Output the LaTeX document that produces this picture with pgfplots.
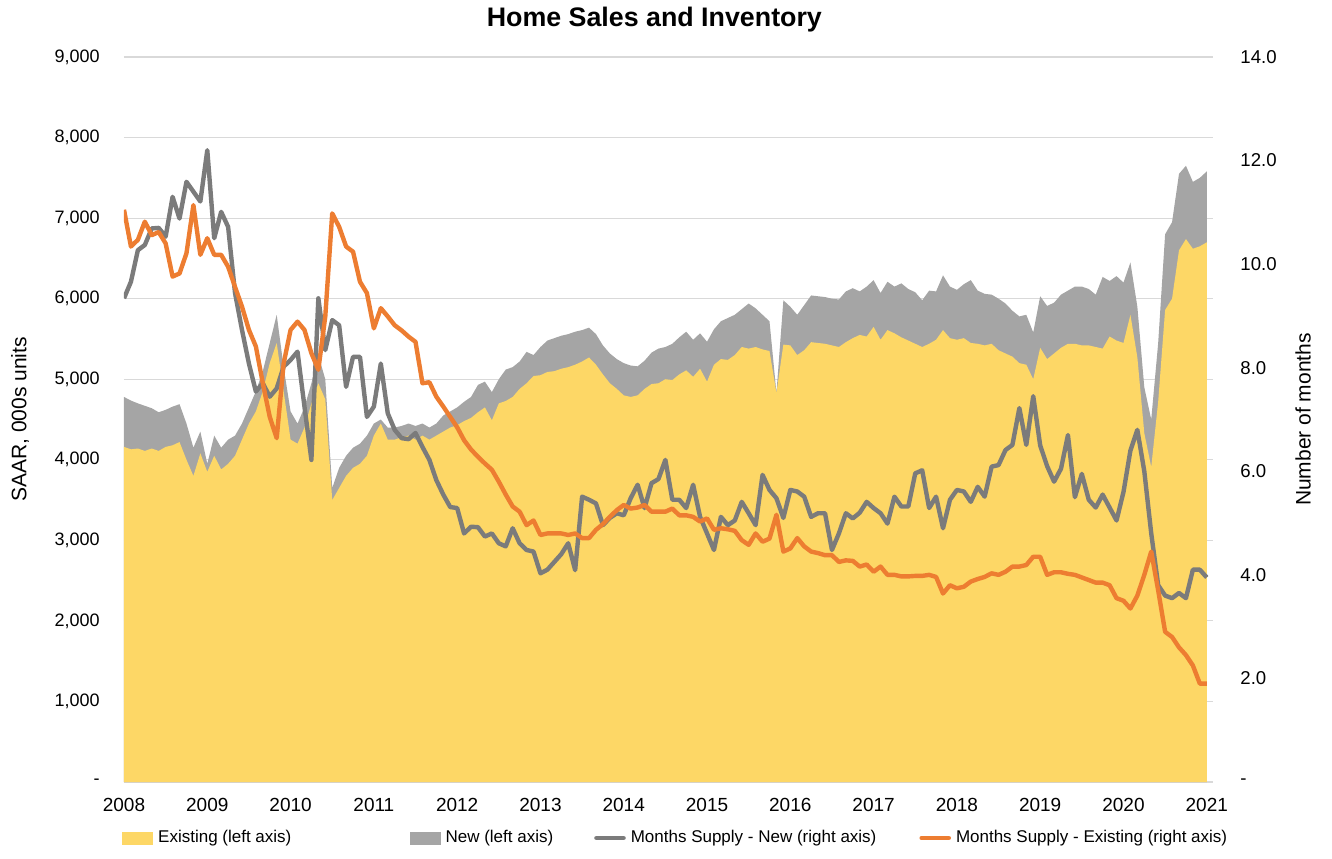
\documentclass[border=0pt]{standalone}
\usepackage{pgfplots}
\usepackage{pgfplotstable}
\pgfplotsset{compat=1.18}
\usepackage{fontspec}
\setmainfont{Liberation Sans}
\definecolor{exist}{HTML}{FDD766}
\definecolor{newc}{HTML}{A5A5A5}
\definecolor{msnew}{HTML}{7B7B7B}
\definecolor{msex}{HTML}{ED7D31}
\definecolor{gridc}{HTML}{D9D9D9}

\pgfplotstableread{
m T E N X
0 4780 4160 9.34 11.05
1 4735 4130 9.66 10.34
2 4700 4140 10.27 10.47
3 4670 4110 10.37 10.82
4 4640 4140 10.69 10.56
5 4590 4110 10.70 10.62
6 4620 4160 10.53 10.40
7 4660 4180 11.30 9.76
8 4690 4220 10.88 9.82
9 4450 4000 11.59 10.21
10 4150 3800 11.40 11.14
11 4350 4080 11.21 10.18
12 3950 3850 12.20 10.50
13 4300 4050 10.50 10.18
14 4150 3880 11.01 10.18
15 4250 3950 10.72 9.95
16 4300 4050 9.44 9.56
17 4450 4250 8.73 9.18
18 4650 4450 8.08 8.73
19 4850 4600 7.54 8.41
20 5100 4850 7.70 7.70
21 5450 5200 7.44 7.05
22 5800 5450 7.60 6.64
23 5150 4850 8.02 8.08
24 4600 4250 8.15 8.73
25 4450 4200 8.31 8.89
26 4650 4400 7.25 8.73
27 4950 4700 6.22 8.28
28 5300 4950 9.34 7.96
29 5000 4750 8.34 8.99
30 3650 3500 8.92 10.98
31 3900 3650 8.82 10.72
32 4050 3800 7.63 10.34
33 4150 3900 8.21 10.24
34 4200 3950 8.21 9.66
35 4300 4050 7.05 9.44
36 4450 4300 7.25 8.76
37 4500 4450 8.08 9.15
38 4400 4250 7.12 8.99
39 4400 4250 6.80 8.82
40 4420 4280 6.64 8.72
41 4450 4300 6.62 8.60
42 4420 4250 6.74 8.50
43 4450 4300 6.47 7.70
44 4400 4250 6.22 7.72
45 4450 4300 5.83 7.44
46 4550 4350 5.55 7.25
47 4600 4400 5.31 7.05
48 4650 4430 5.29 6.85
49 4720 4480 4.80 6.60
50 4780 4520 4.93 6.42
51 4930 4590 4.92 6.28
52 4970 4650 4.74 6.15
53 4840 4490 4.80 6.03
54 5000 4700 4.61 5.80
55 5120 4730 4.55 5.55
56 5150 4780 4.90 5.32
57 5220 4880 4.61 5.22
58 5340 4950 4.48 4.96
59 5300 5040 4.45 5.05
60 5400 5050 4.03 4.77
61 5480 5090 4.10 4.80
62 5510 5100 4.25 4.80
63 5540 5130 4.40 4.80
64 5560 5150 4.61 4.77
65 5590 5180 4.09 4.80
66 5610 5220 5.51 4.71
67 5640 5270 5.45 4.71
68 5560 5180 5.38 4.87
69 5420 5060 4.96 4.98
70 5320 4950 5.10 5.12
71 5250 4880 5.19 5.25
72 5200 4800 5.15 5.35
73 5170 4780 5.48 5.28
74 5160 4800 5.74 5.30
75 5230 4880 5.29 5.35
76 5330 4940 5.77 5.22
77 5380 4950 5.85 5.22
78 5400 5000 6.22 5.22
79 5440 4990 5.45 5.28
80 5520 5060 5.45 5.15
81 5590 5110 5.29 5.15
82 5490 5030 5.74 5.12
83 5570 5130 5.12 5.03
84 5465 4970 4.80 5.09
85 5620 5180 4.48 4.87
86 5720 5250 5.12 4.90
87 5760 5240 4.96 4.88
88 5800 5300 5.05 4.85
89 5870 5400 5.41 4.67
90 5940 5380 5.19 4.58
91 5880 5400 4.96 4.80
92 5800 5370 5.93 4.64
93 5720 5350 5.64 4.70
94 4830 4830 5.48 5.16
95 5980 5430 5.10 4.45
96 5900 5420 5.64 4.51
97 5800 5300 5.61 4.71
98 5920 5360 5.51 4.55
99 6040 5460 5.12 4.45
100 6030 5450 5.19 4.42
101 6020 5440 5.19 4.38
102 6000 5420 4.48 4.38
103 5990 5400 4.80 4.25
104 6090 5460 5.19 4.28
105 6130 5510 5.09 4.27
106 6090 5550 5.20 4.16
107 6150 5530 5.41 4.20
108 6230 5650 5.29 4.06
109 6070 5490 5.19 4.16
110 6210 5610 4.99 4.00
111 6150 5570 5.51 4.00
112 6190 5520 5.32 3.97
113 6120 5480 5.32 3.97
114 6080 5440 5.96 3.98
115 5980 5400 6.02 3.98
116 6100 5440 5.29 4.00
117 6090 5490 5.51 3.96
118 6290 5610 4.90 3.64
119 6150 5510 5.45 3.80
120 6110 5490 5.64 3.74
121 6180 5510 5.61 3.77
122 6230 5450 5.41 3.87
123 6100 5440 5.70 3.92
124 6060 5420 5.51 3.96
125 6050 5440 6.09 4.03
126 6000 5360 6.12 4.00
127 5940 5320 6.41 4.06
128 5850 5280 6.51 4.16
129 5780 5200 7.22 4.16
130 5800 5180 6.51 4.19
131 5580 5000 7.45 4.35
132 6030 5390 6.50 4.35
133 5910 5250 6.10 4.00
134 5950 5320 5.80 4.05
135 6050 5390 6.05 4.05
136 6100 5440 6.70 4.02
137 6150 5440 5.50 4.00
138 6150 5420 5.95 3.95
139 6120 5420 5.45 3.90
140 6050 5400 5.30 3.85
141 6270 5380 5.55 3.85
142 6220 5530 5.30 3.80
143 6280 5480 5.05 3.55
144 6200 5450 5.60 3.50
145 6450 5800 6.40 3.35
146 5900 5270 6.80 3.60
147 4900 4330 6.00 4.00
148 4500 3910 4.80 4.45
149 5450 4720 3.80 3.70
150 6800 5860 3.60 2.90
151 6950 6000 3.55 2.80
152 7550 6600 3.65 2.60
153 7650 6740 3.55 2.45
154 7450 6620 4.10 2.25
155 7500 6650 4.10 1.90
156 7580 6700 3.95 1.90
}\data

\begin{document}
\begin{tikzpicture}
\path[use as bounding box] (-62pt,-38pt) rectangle (604pt,391pt);
\begin{axis}[
  at={(0,0)}, anchor=south west,
  scale only axis, width=544.5pt, height=362.5pt,
  xmin=0, xmax=156.9, ymin=0, ymax=9000,
  axis x line*=bottom, axis y line*=left,
  x axis line style={draw=gridc, line width=0.7pt, -},
  y axis line style={draw=none},
  major tick length=0pt,
  xtick={0,12,...,156},
  xticklabels={2008,2009,2010,2011,2012,2013,2014,2015,2016,2017,2018,2019,2020,2021},
  ytick={0,1000,...,9000},
  yticklabels={-,{1,000},{2,000},{3,000},{4,000},{5,000},{6,000},{7,000},{8,000},{9,000}},
  ymajorgrids, grid style={draw=gridc, line width=0.6pt},
  xticklabel style={font=\fontsize{9.5}{11}\selectfont, text=black, anchor=north, inner sep=0pt, yshift=-8pt},
  yticklabel style={font=\fontsize{9}{11}\selectfont, text=black, anchor=east, inner sep=0pt, xshift=-12pt},
  ylabel={SAAR, 000s units},
  every axis y label/.style={at={([xshift=-52pt]axis description cs:0,0.5)}, anchor=center, rotate=90, font=\fontsize{10.5}{12}\selectfont},
  title={\textbf{Home Sales and Inventory}},
  every axis title/.style={at={([yshift=18.5pt]axis description cs:0.487,1)}, anchor=center, font=\fontsize{13.4}{15}\selectfont},
  legend columns=4,
  legend style={at={([xshift=-1pt,yshift=-28pt]axis description cs:0,0)}, anchor=west, draw=none, fill=none, inner sep=0pt, font=\fontsize{8.5}{10}\selectfont, nodes={inner xsep=2.5pt, inner ysep=0pt}, /tikz/every even column/.style={column sep=0pt}, /tikz/every odd column/.style={column sep=0pt}},
]
\addplot[fill=newc, draw=none, forget plot] table[x=m,y=T]{\data} \closedcycle;
\addplot[fill=exist, draw=none, forget plot] table[x=m,y=E]{\data} \closedcycle;
\addlegendimage{legend image code/.code={\fill[exist] (0pt,-3pt) rectangle (15pt,3pt);}}
\addlegendentry{\makebox[123.3pt][l]{Existing (left axis)}}
\addlegendimage{legend image code/.code={\fill[newc] (0pt,-3pt) rectangle (15pt,3pt);}}
\addlegendentry{\makebox[71.8pt][l]{New (left axis)}}
\addlegendimage{legend image code/.code={\draw[msnew, line width=2.4pt, line cap=round] (0.8pt,0pt) -- (14.2pt,0pt);}}
\addlegendentry{\makebox[141.8pt][l]{Months Supply - New (right axis)}}
\addlegendimage{legend image code/.code={\draw[msex, line width=2.4pt, line cap=round] (0.8pt,0pt) -- (14.2pt,0pt);}}
\addlegendentry{Months Supply - Existing (right axis)}
\end{axis}
\begin{axis}[
  at={(0,0)}, anchor=south west,
  scale only axis, width=544.5pt, height=362.5pt,
  xmin=0, xmax=156.9, ymin=0, ymax=14,
  axis x line=none, axis y line*=right,
  y axis line style={draw=none},
  major tick length=0pt,
  ytick={0,2,...,14},
  yticklabels={-,2.0,4.0,6.0,8.0,10.0,12.0,14.0},
  yticklabel style={font=\fontsize{9.3}{11}\selectfont, text=black, anchor=west, inner sep=0pt, xshift=13.5pt},
  ylabel={Number of months},
  every axis y label/.style={at={([xshift=45pt]axis description cs:1,0.5)}, anchor=center, rotate=90, font=\fontsize{10.5}{12}\selectfont},
]
\addplot[msnew, line width=2.2pt, line join=round] table[x=m,y=N]{\data};
\addplot[msex, line width=2.2pt, line join=round] table[x=m,y=X]{\data};
\end{axis}
\end{tikzpicture}
\end{document}
